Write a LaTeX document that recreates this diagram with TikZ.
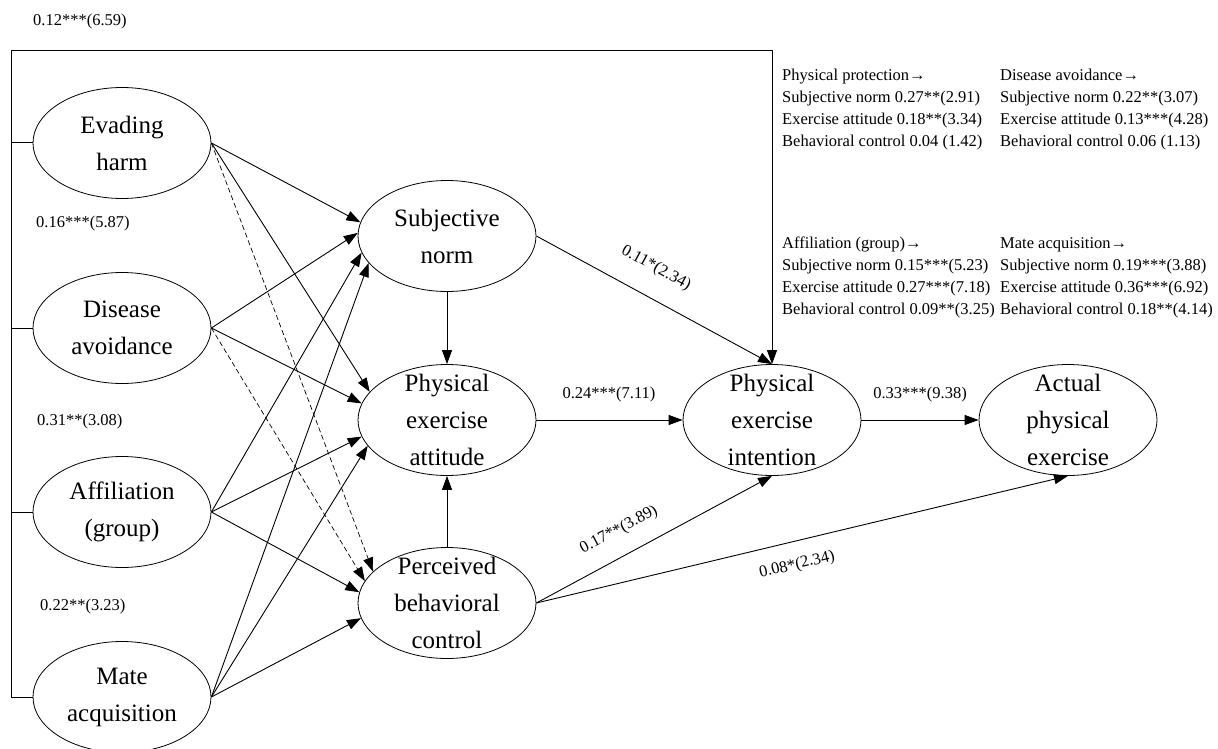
\documentclass[tikz,border=0pt]{standalone}
\usepackage{fontspec}
\setmainfont{Liberation Serif}
\usetikzlibrary{shapes.geometric,arrows.meta}
\begin{document}
\begin{tikzpicture}[x=1pt,y=-1pt,
  ell/.style={draw, ellipse, minimum width=178pt, minimum height=111pt, inner sep=0pt, line width=0.8pt},
  txt/.style={font=\fontsize{25}{37}\selectfont, align=center, inner sep=0pt},
  lbl/.style={font=\fontsize{16.5}{22}\selectfont, inner sep=0pt},
  blk/.style={font=\fontsize{16.5}{22}\selectfont, inner sep=0pt, align=left, anchor=north west},
  arr/.style={-{Triangle[length=14pt,width=10pt]}, line width=0.9pt},
  darr/.style={arr, dash pattern=on 5pt off 3pt, line width=0.7pt},
  frame/.style={line width=1pt}
]
\useasboundingbox (0,0) rectangle (1218,749);

% ellipses
\node[ell, label={[txt]center:{Evading\\harm}}] (eh) at (122,143) {};
\node[ell, label={[txt]center:{Disease\\avoidance}}] (da) at (122,328) {};
\node[ell, label={[txt]center:{Affiliation\\(group)}}] (af) at (122,512) {};
\node[ell, label={[txt]center:{Mate\\acquisition}}] (ma) at (122,697) {};
\node[ell, label={[txt]center:{Subjective\\norm}}] (sn) at (447,236) {};
\node[ell, label={[txt]center:{Physical\\exercise\\attitude}}] (pea) at (447,420) {};
\node[ell, label={[txt]center:{Perceived\\behavioral\\control}}] (pbc) at (447,603) {};
\node[ell, label={[txt]center:{Physical\\exercise\\intention}}] (pei) at (772,420) {};
\node[ell, label={[txt]center:{Actual\\physical\\exercise}}] (ape) at (1068,420) {};

% frame connector
\coordinate (fb) at (11,697);
\coordinate (ft) at (11,51);
\draw[arr, frame] (ma.west) -- (fb) -- (ft) -| (pei.north);
\foreach \n in {eh,da,af} \draw[frame] (\n.west) -- (\n.west -| fb);

% left-side paths
\draw[arr] (eh.east) -- (sn.171);
\draw[arr] (eh.east) -- (pea.160);
\draw[darr] (eh.east) -- (pbc.157);
\draw[arr] (da.east) -- (sn.178);
\draw[arr] (da.east) -- (pea.169);
\draw[darr] (da.east) -- (pbc.165);
\draw[arr] (af.east) -- (sn.191);
\draw[arr] (af.east) -- (pea.191);
\draw[arr] (af.east) -- (pbc.173);
\draw[arr] (ma.east) -- (sn.199);
\draw[arr] (ma.east) -- (pea.198);
\draw[arr] (ma.east) -- (pbc.190);

% central paths
\draw[arr] (sn.south) -- (pea.north);
\draw[arr] (pbc.north) -- (pea.south);
\draw[arr] (sn.east) -- (pei.north);
\draw[arr] (pea.east) -- (pei.west);
\draw[arr] (pei.east) -- (ape.west);
\draw[arr] (pbc.east) -- (pei.south);
\draw[arr] (pbc.east) -- (ape.south);

% path labels
\node[lbl, rotate=-28.5] (l1) at (656,268) {0.11*(2.34)};
\node[lbl] (l2) at (609,395) {0.24***(7.11)};
\node[lbl] (l3) at (920,395) {0.33***(9.38)};
\node[lbl, rotate=28] (l4) at (619,530) {0.17**(3.89)};
\node[lbl, rotate=13.5] (l5) at (797,565) {0.08*(2.34)};

% left labels
\node[lbl, anchor=west] (c1) at (33,22) {0.12***(6.59)};
\node[lbl, anchor=west] (c2) at (36,224) {0.16***(5.87)};
\node[lbl, anchor=west] (c3) at (37,422) {0.31**(3.08)};
\node[lbl, anchor=west] (c4) at (40,607) {0.22**(3.23)};

% right text block
\node[blk] (b1) at (782,69) {Physical protection→\\Subjective norm 0.27**(2.91)\\Exercise attitude 0.18**(3.34)\\Behavioral control 0.04 (1.42)};
\node[blk] (b2) at (1000,69) {Disease avoidance→\\Subjective norm 0.22**(3.07)\\Exercise attitude 0.13***(4.28)\\Behavioral control 0.06 (1.13)};
\node[blk] (b3) at (782,237) {Affiliation (group)→\\Subjective norm 0.15***(5.23)\\Exercise attitude 0.27***(7.18)\\Behavioral control 0.09**(3.25)};
\node[blk] (b4) at (1000,237) {Mate acquisition→\\Subjective norm 0.19***(3.88)\\Exercise attitude 0.36***(6.92)\\Behavioral control 0.18**(4.14)};
\end{tikzpicture}
\end{document}
